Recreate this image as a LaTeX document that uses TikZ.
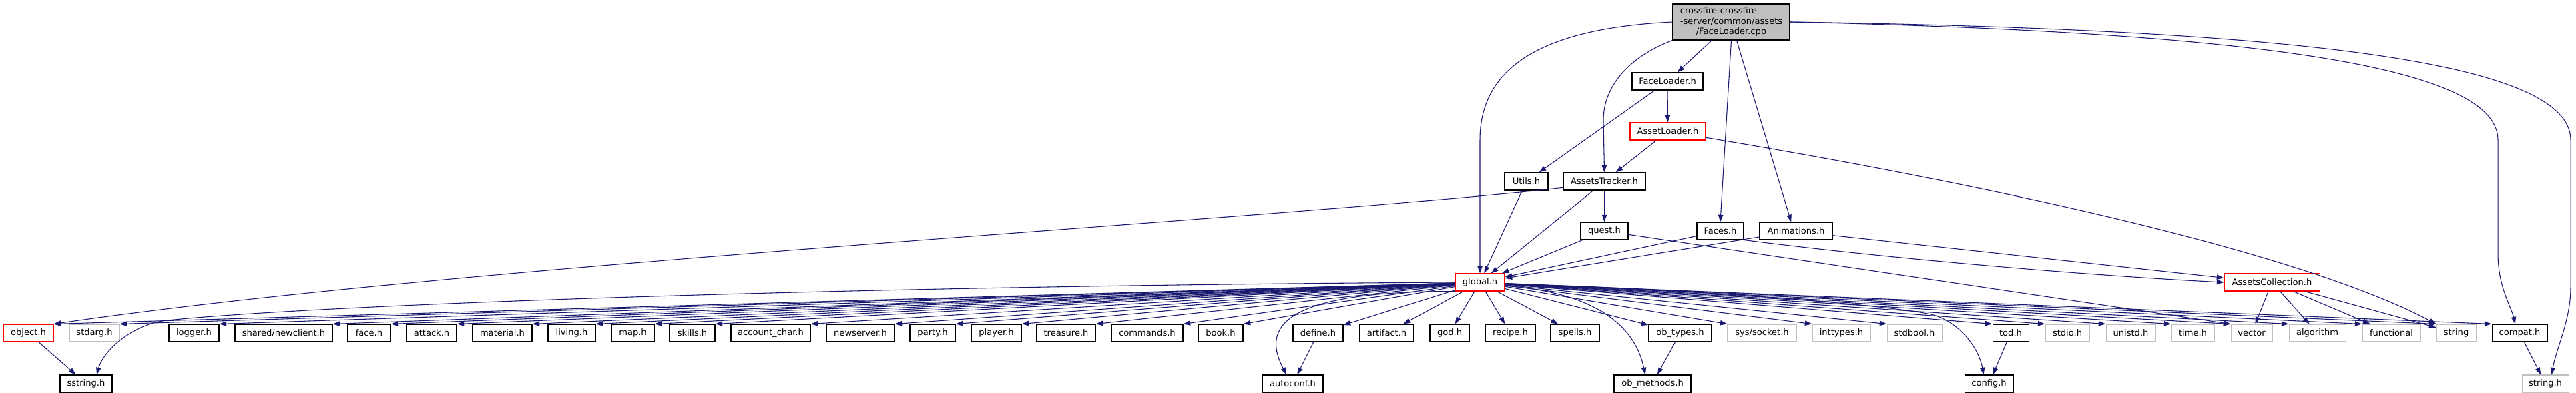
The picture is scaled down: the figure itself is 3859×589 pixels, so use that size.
\documentclass[tikz,border=0pt]{standalone}
\usepackage{fontspec}
\setmainfont{DejaVu Sans}
\usetikzlibrary{arrows.meta}

\definecolor{edgeblue}{HTML}{191970}
\definecolor{extgray}{HTML}{BFBFBF}
\definecolor{truncred}{HTML}{FF0000}

\tikzset{
    hdr/.style={draw=black, line width=0.8pt, fill=white, inner sep=0pt,
        minimum height=19.5pt, font=\fontsize{9.8}{11.3}\selectfont},
    ext/.style={hdr, draw=extgray},
    trunc/.style={hdr, draw=truncred},
    wd/.style={minimum width=#1*0.75pt},
    dep/.style={draw=edgeblue, line width=0.8pt, -{Triangle[length=8pt,width=5.5pt]}},
}

\begin{document}
\begin{tikzpicture}[x=0.75pt, y=-0.75pt]
    \useasboundingbox (0,0) rectangle (3859,589);

    % the file itself
    \node[hdr, fill=extgray, wd=175, minimum height=40.5pt] (root) at (2593.5,33)
        {\begin{tabular}{@{}l@{}}crossfire-crossfire\\-server/common/assets\\\multicolumn{1}{@{}c@{}}{/FaceLoader.cpp}\end{tabular}};

    % headers of the assets code
    \node[hdr, wd=106] (faceloaderh) at (2498,122) {FaceLoader.h};
    \node[trunc, wd=113] (assetloaderh) at (2498.5,197) {AssetLoader.h};
    \node[hdr, wd=65] (utilsh) at (2286.5,272) {Utils.h};
    \node[hdr, wd=123] (assetstrackerh) at (2403.5,272) {AssetsTracker.h};
    \node[hdr, wd=71] (questh) at (2403.5,346) {quest.h};
    \node[hdr, wd=70] (facesh) at (2577,346) {Faces.h};
    \node[hdr, wd=109] (animationsh) at (2690.5,346) {Animations.h};
    \node[trunc, wd=74] (globalh) at (2217,423) {global.h};
    \node[trunc, wd=143] (assetscollectionh) at (3403.5,423) {AssetsCollection.h};

    % first row of included headers
    \node[trunc, wd=75] (objecth) at (42.5,499) {object.h};
    \node[ext, wd=75] (stdargh) at (141.5,499) {stdarg.h};
    \node[hdr, wd=75] (loggerh) at (290.5,499) {logger.h};
    \node[hdr, wd=146] (newclienth) at (425,499) {shared/newclient.h};
    \node[hdr, wd=64] (faceh) at (553,499) {face.h};
    \node[hdr, wd=75] (attackh) at (646.5,499) {attack.h};
    \node[hdr, wd=89] (materialh) at (752.5,499) {material.h};
    \node[hdr, wd=71] (livingh) at (856.5,499) {living.h};
    \node[hdr, wd=64] (maph) at (948,499) {map.h};
    \node[hdr, wd=68] (skillsh) at (1037,499) {skills.h};
    \node[hdr, wd=119] (accountcharh) at (1154.5,499) {account\_char.h};
    \node[hdr, wd=102] (newserverh) at (1289,499) {newserver.h};
    \node[hdr, wd=68] (partyh) at (1397,499) {party.h};
    \node[hdr, wd=75] (playerh) at (1492.5,499) {player.h};
    \node[hdr, wd=88] (treasureh) at (1597,499) {treasure.h};
    \node[hdr, wd=107] (commandsh) at (1718.5,499) {commands.h};
    \node[hdr, wd=67] (bookh) at (1828.5,499) {book.h};
    \node[hdr, wd=75] (defineh) at (1974.5,499) {define.h};
    \node[hdr, wd=81] (artifacth) at (2077.5,499) {artifact.h};
    \node[hdr, wd=59] (godh) at (2171.5,499) {god.h};
    \node[hdr, wd=75] (recipeh) at (2262.5,499) {recipe.h};
    \node[hdr, wd=73] (spellsh) at (2359.5,499) {spells.h};
    \node[hdr, wd=94] (obtypesh) at (2517,499) {ob\_types.h};
    \node[ext, wd=103] (syssocketh) at (2639.5,499) {sys/socket.h};
    \node[ext, wd=87] (inttypesh) at (2758.5,499) {inttypes.h};
    \node[ext, wd=82] (stdboolh) at (2868,499) {stdbool.h};
    \node[hdr, wd=54] (todh) at (3012,499) {tod.h};
    \node[ext, wd=66] (stdioh) at (3097,499) {stdio.h};
    \node[ext, wd=74] (unistdh) at (3192,499) {unistd.h};
    \node[ext, wd=64] (timeh) at (3285,499) {time.h};
    \node[ext, wd=62] (stdvector) at (3373,499) {vector};
    \node[ext, wd=85] (stdalgorithm) at (3471.5,499) {algorithm};
    \node[ext, wd=87] (stdfunctional) at (3582.5,499) {functional};
    \node[ext, wd=59] (stdstring) at (3679.5,499) {string};
    \node[hdr, wd=83] (compath) at (3774.5,499) {compat.h};

    % second row
    \node[hdr, wd=78] (sstringh) at (129,575) {sstring.h};
    \node[hdr, wd=91] (autoconfh) at (1936.5,575) {autoconf.h};
    \node[hdr, wd=115] (obmethodsh) at (2475.5,575) {ob\_methods.h};
    \node[hdr, wd=73] (configh) at (2979.5,575) {config.h};
    \node[ext, wd=70] (stringh) at (3813,575) {string.h};

    % edges from the file
    \draw[dep] (root.west) .. controls (2320,42) and (2217,95) .. (2217,210) -- (globalh.north);
    \draw[dep] (root.south west) .. controls (2440,85) and (2402,130) .. (2402,180) -- (assetstrackerh.north);
    \draw[dep] ([xshift=-22pt]root.south) -- ([xshift=11pt]faceloaderh.north);
    \draw[dep] (root.south) -- (facesh.north);
    \draw[dep] ([xshift=6pt]root.south) -- ([xshift=-5.5pt]animationsh.north);
    \draw[dep] (root.east) .. controls (3450,50) and (3742,110) .. (3742,210) -- (3742,380)
        .. controls (3742,430) and (3762,460) .. ([xshift=-5pt]compath.north);
    \draw[dep] (root.east) .. controls (3500,45) and (3851,100) .. (3851,210) -- (3851,430)
        .. controls (3851,480) and (3830,520) .. ([xshift=7pt]stringh.north);

    % edges between the assets headers
    \draw[dep] (faceloaderh) -- (assetloaderh);
    \draw[dep] (faceloaderh) -- (utilsh);
    \draw[dep] (assetloaderh) -- (assetstrackerh);
    \draw[dep] ([yshift=-7pt]assetloaderh.east) .. controls (3000,280) and (3450,380) .. (stdstring.north west);
    \draw[dep] (utilsh) -- (globalh);
    \draw[dep] (assetstrackerh) -- (globalh);
    \draw[dep] (assetstrackerh) -- (questh);
    \draw[dep] ([yshift=-7pt]assetstrackerh.west) .. controls (1900,330) and (700,395) .. (objecth.north east);
    \draw[dep] (questh) -- (globalh);
    \draw[dep] (questh) -- (stdvector.north west);
    \draw[dep] (facesh) -- (globalh);
    \draw[dep] (facesh.south east) .. controls (2850,390) and (3150,414) .. (assetscollectionh.west);
    \draw[dep] (animationsh) -- (globalh);
    \draw[dep] ([yshift=-5pt]animationsh.east) -- ([yshift=5pt]assetscollectionh.west);
    \foreach \n in {stdvector, stdalgorithm, stdfunctional, stdstring}
        \draw[dep] (assetscollectionh) -- (\n);

    % edges from global.h
    \foreach \n in {objecth, stdargh, loggerh, newclienth, faceh, attackh, materialh, livingh, maph,
        skillsh, accountcharh, newserverh, partyh, playerh, treasureh, commandsh, bookh}
        \draw[dep] (globalh) -- (\n.north east);
    \foreach \n in {defineh, artifacth, godh, recipeh, spellsh, obtypesh}
        \draw[dep] (globalh) -- (\n);
    \foreach \n in {syssocketh, inttypesh, stdboolh, todh, stdioh, unistdh, timeh, stdvector,
        stdalgorithm, stdfunctional, stdstring, compath}
        \draw[dep] (globalh) -- (\n.north west);
    \draw[dep] (globalh.west) .. controls (1300,428) and (500,455) .. (250,480)
        .. controls (200,485) and (155,525) .. ([xshift=12pt]sstringh.north);
    \draw[dep] (globalh.south west) .. controls (1900,436) and (1895,500) .. ([xshift=-7pt]autoconfh.north);
    \draw[dep] ([yshift=-4pt]globalh.east) .. controls (2360,436) and (2445,470) .. ([xshift=-8pt]obmethodsh.north);
    \draw[dep] ([yshift=-2pt]globalh.east) .. controls (2500,430) and (2860,459) .. (2900,473)
        .. controls (2940,487) and (2965,525) .. ([xshift=-6pt]configh.north);

    % second level edges
    \draw[dep] (objecth) -- (sstringh);
    \draw[dep] (defineh) -- (autoconfh);
    \draw[dep] (obtypesh) -- (obmethodsh);
    \draw[dep] (todh) -- (configh);
    \draw[dep] (compath) -- (stringh);
\end{tikzpicture}
\end{document}
